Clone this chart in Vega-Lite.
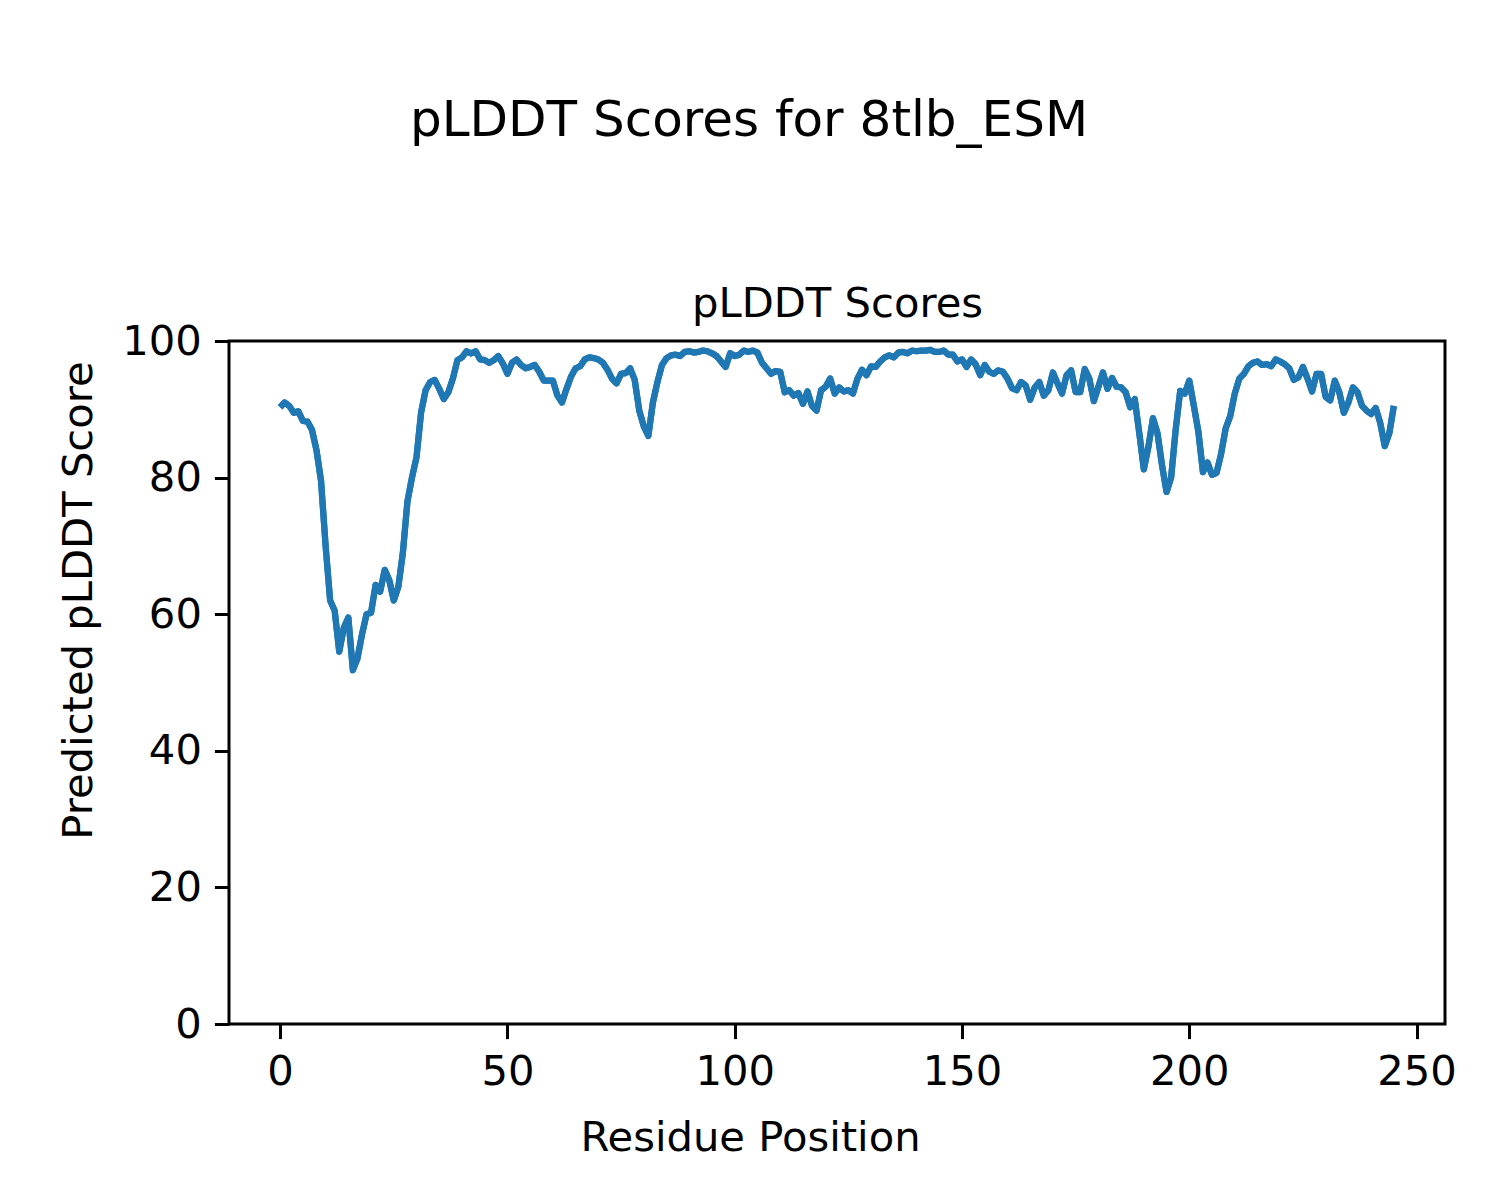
{
  "$schema": "https://vega.github.io/schema/vega-lite/v6.json",
  "width": 1216,
  "height": 683,
  "autosize": {"type": "none"},
  "padding": {"left": 229, "top": 341, "right": 55, "bottom": 176},
  "background": "white",
  "config": {
    "font": "DejaVu Sans",
    "view": {"stroke": "black", "strokeWidth": 3},
    "axis": {
      "grid": false,
      "domain": false,
      "ticks": true,
      "tickColor": "black",
      "tickWidth": 3,
      "tickSize": 14.6,
      "labelPadding": 13,
      "labelFont": "DejaVu Sans",
      "labelFontSize": 41.7,
      "labelColor": "black",
      "titleFont": "DejaVu Sans",
      "titleFontSize": 41.7,
      "titleFontWeight": "normal",
      "titleColor": "black"
    }
  },
  "title": {
    "text": "pLDDT Scores for 8tlb_ESM",
    "font": "DejaVu Sans",
    "fontSize": 50,
    "fontWeight": "normal",
    "color": "black",
    "anchor": "middle",
    "dx": -88,
    "offset": 137
  },
  "data": {
    "values": [
      {"r": 0, "s": 90.3}, {"r": 1, "s": 91.0}, {"r": 2, "s": 90.5}, {"r": 3, "s": 89.5}, {"r": 4, "s": 89.7},
      {"r": 5, "s": 88.3}, {"r": 6, "s": 88.2}, {"r": 7, "s": 87.0}, {"r": 8, "s": 84.0}, {"r": 9, "s": 79.5},
      {"r": 10, "s": 70.0}, {"r": 11, "s": 62.0}, {"r": 12, "s": 60.5}, {"r": 13, "s": 54.5}, {"r": 14, "s": 58.0},
      {"r": 15, "s": 59.5}, {"r": 16, "s": 51.8}, {"r": 17, "s": 53.5}, {"r": 18, "s": 57.0}, {"r": 19, "s": 60.0},
      {"r": 20, "s": 60.2}, {"r": 21, "s": 64.3}, {"r": 22, "s": 63.3}, {"r": 23, "s": 66.5}, {"r": 24, "s": 65.0},
      {"r": 25, "s": 62.0}, {"r": 26, "s": 64.0}, {"r": 27, "s": 69.0}, {"r": 28, "s": 76.5}, {"r": 29, "s": 80.0},
      {"r": 30, "s": 83.0}, {"r": 31, "s": 89.5}, {"r": 32, "s": 92.8}, {"r": 33, "s": 94.0}, {"r": 34, "s": 94.3},
      {"r": 35, "s": 93.0}, {"r": 36, "s": 91.5}, {"r": 37, "s": 92.5}, {"r": 38, "s": 94.5}, {"r": 39, "s": 97.2},
      {"r": 40, "s": 97.6}, {"r": 41, "s": 98.5}, {"r": 42, "s": 98.2}, {"r": 43, "s": 98.5}, {"r": 44, "s": 97.3},
      {"r": 45, "s": 97.2}, {"r": 46, "s": 96.8}, {"r": 47, "s": 97.2}, {"r": 48, "s": 97.8}, {"r": 49, "s": 96.7},
      {"r": 50, "s": 95.2}, {"r": 51, "s": 96.8}, {"r": 52, "s": 97.3}, {"r": 53, "s": 96.5}, {"r": 54, "s": 96.0},
      {"r": 55, "s": 96.2}, {"r": 56, "s": 96.5}, {"r": 57, "s": 95.5}, {"r": 58, "s": 94.2}, {"r": 59, "s": 94.2},
      {"r": 60, "s": 94.2}, {"r": 61, "s": 92.0}, {"r": 62, "s": 91.0}, {"r": 63, "s": 93.0}, {"r": 64, "s": 94.8},
      {"r": 65, "s": 96.0}, {"r": 66, "s": 96.3}, {"r": 67, "s": 97.3}, {"r": 68, "s": 97.6}, {"r": 69, "s": 97.5},
      {"r": 70, "s": 97.3}, {"r": 71, "s": 96.8}, {"r": 72, "s": 95.8}, {"r": 73, "s": 94.5}, {"r": 74, "s": 93.8},
      {"r": 75, "s": 95.2}, {"r": 76, "s": 95.3}, {"r": 77, "s": 96.0}, {"r": 78, "s": 94.3}, {"r": 79, "s": 89.8},
      {"r": 80, "s": 87.5}, {"r": 81, "s": 86.1}, {"r": 82, "s": 91.0}, {"r": 83, "s": 94.0}, {"r": 84, "s": 96.5},
      {"r": 85, "s": 97.5}, {"r": 86, "s": 97.9}, {"r": 87, "s": 98.0}, {"r": 88, "s": 97.8}, {"r": 89, "s": 98.4},
      {"r": 90, "s": 98.5}, {"r": 91, "s": 98.3}, {"r": 92, "s": 98.4}, {"r": 93, "s": 98.6}, {"r": 94, "s": 98.5},
      {"r": 95, "s": 98.2}, {"r": 96, "s": 97.8}, {"r": 97, "s": 97.0}, {"r": 98, "s": 96.2}, {"r": 99, "s": 98.2},
      {"r": 100, "s": 97.8}, {"r": 101, "s": 98.0}, {"r": 102, "s": 98.6}, {"r": 103, "s": 98.4}, {"r": 104, "s": 98.6},
      {"r": 105, "s": 98.3}, {"r": 106, "s": 96.8}, {"r": 107, "s": 96.0}, {"r": 108, "s": 95.2}, {"r": 109, "s": 95.6},
      {"r": 110, "s": 95.5}, {"r": 111, "s": 92.5}, {"r": 112, "s": 92.8}, {"r": 113, "s": 92.0}, {"r": 114, "s": 92.4},
      {"r": 115, "s": 90.8}, {"r": 116, "s": 92.6}, {"r": 117, "s": 90.5}, {"r": 118, "s": 89.8}, {"r": 119, "s": 92.8},
      {"r": 120, "s": 93.3}, {"r": 121, "s": 94.5}, {"r": 122, "s": 92.3}, {"r": 123, "s": 93.2}, {"r": 124, "s": 92.6},
      {"r": 125, "s": 92.8}, {"r": 126, "s": 92.3}, {"r": 127, "s": 94.5}, {"r": 128, "s": 95.8}, {"r": 129, "s": 95.0},
      {"r": 130, "s": 96.3}, {"r": 131, "s": 96.2}, {"r": 132, "s": 97.0}, {"r": 133, "s": 97.6}, {"r": 134, "s": 97.9},
      {"r": 135, "s": 97.6}, {"r": 136, "s": 98.3}, {"r": 137, "s": 98.4}, {"r": 138, "s": 98.2}, {"r": 139, "s": 98.6},
      {"r": 140, "s": 98.5}, {"r": 141, "s": 98.6}, {"r": 142, "s": 98.6}, {"r": 143, "s": 98.7}, {"r": 144, "s": 98.4},
      {"r": 145, "s": 98.4}, {"r": 146, "s": 98.6}, {"r": 147, "s": 98.0}, {"r": 148, "s": 98.0}, {"r": 149, "s": 97.0},
      {"r": 150, "s": 97.3}, {"r": 151, "s": 96.2}, {"r": 152, "s": 97.3}, {"r": 153, "s": 96.6}, {"r": 154, "s": 95.0},
      {"r": 155, "s": 96.5}, {"r": 156, "s": 95.5}, {"r": 157, "s": 95.2}, {"r": 158, "s": 95.7}, {"r": 159, "s": 95.5},
      {"r": 160, "s": 94.5}, {"r": 161, "s": 93.1}, {"r": 162, "s": 92.8}, {"r": 163, "s": 94.0}, {"r": 164, "s": 93.5},
      {"r": 165, "s": 91.4}, {"r": 166, "s": 93.2}, {"r": 167, "s": 94.0}, {"r": 168, "s": 92.0}, {"r": 169, "s": 92.8},
      {"r": 170, "s": 95.4}, {"r": 171, "s": 93.8}, {"r": 172, "s": 92.3}, {"r": 173, "s": 95.0}, {"r": 174, "s": 95.7},
      {"r": 175, "s": 92.5}, {"r": 176, "s": 92.5}, {"r": 177, "s": 95.9}, {"r": 178, "s": 94.5}, {"r": 179, "s": 91.2},
      {"r": 180, "s": 93.3}, {"r": 181, "s": 95.4}, {"r": 182, "s": 93.0}, {"r": 183, "s": 94.6}, {"r": 184, "s": 93.3},
      {"r": 185, "s": 93.2}, {"r": 186, "s": 92.5}, {"r": 187, "s": 90.3}, {"r": 188, "s": 91.5}, {"r": 189, "s": 86.5},
      {"r": 190, "s": 81.2}, {"r": 191, "s": 84.5}, {"r": 192, "s": 88.7}, {"r": 193, "s": 86.5}, {"r": 194, "s": 81.8},
      {"r": 195, "s": 77.9}, {"r": 196, "s": 80.0}, {"r": 197, "s": 87.0}, {"r": 198, "s": 92.7}, {"r": 199, "s": 92.3},
      {"r": 200, "s": 94.2}, {"r": 201, "s": 90.5}, {"r": 202, "s": 86.7}, {"r": 203, "s": 80.8}, {"r": 204, "s": 82.2},
      {"r": 205, "s": 80.4}, {"r": 206, "s": 80.7}, {"r": 207, "s": 83.5}, {"r": 208, "s": 87.2}, {"r": 209, "s": 89.0},
      {"r": 210, "s": 92.3}, {"r": 211, "s": 94.5}, {"r": 212, "s": 95.2}, {"r": 213, "s": 96.3}, {"r": 214, "s": 96.8},
      {"r": 215, "s": 97.0}, {"r": 216, "s": 96.5}, {"r": 217, "s": 96.6}, {"r": 218, "s": 96.3}, {"r": 219, "s": 97.3},
      {"r": 220, "s": 97.0}, {"r": 221, "s": 96.6}, {"r": 222, "s": 96.0}, {"r": 223, "s": 94.3}, {"r": 224, "s": 94.7},
      {"r": 225, "s": 96.2}, {"r": 226, "s": 94.5}, {"r": 227, "s": 92.6}, {"r": 228, "s": 95.2}, {"r": 229, "s": 95.2},
      {"r": 230, "s": 91.8}, {"r": 231, "s": 91.3}, {"r": 232, "s": 94.2}, {"r": 233, "s": 92.5}, {"r": 234, "s": 89.5},
      {"r": 235, "s": 91.0}, {"r": 236, "s": 93.2}, {"r": 237, "s": 92.5}, {"r": 238, "s": 90.5}, {"r": 239, "s": 89.8},
      {"r": 240, "s": 89.3}, {"r": 241, "s": 90.2}, {"r": 242, "s": 88.0}, {"r": 243, "s": 84.6}, {"r": 244, "s": 86.5},
      {"r": 245, "s": 90.5}
    ]
  },
  "layer": [
    {
      "mark": {"type": "line", "color": "#1f77b4", "strokeWidth": 6.25, "strokeJoin": "round", "strokeCap": "butt"},
      "encoding": {
        "x": {
          "field": "r", "type": "quantitative",
          "scale": {"domain": [-11.25, 256.25], "nice": false, "zero": false},
          "axis": {"orient": "bottom", "values": [0, 50, 100, 150, 200, 250], "title": "Residue Position", "titlePadding": 24, "titleX": 521, "labelFlush": false}
        },
        "y": {
          "field": "s", "type": "quantitative",
          "scale": {"domain": [0, 100], "nice": false},
          "axis": {"orient": "left", "values": [0, 20, 40, 60, 80, 100], "title": "Predicted pLDDT Score", "titlePadding": 21, "titleY": 259, "labelFlush": false}
        }
      }
    },
    {
      "mark": {"type": "line", "color": "#1f77b4", "strokeWidth": 6.25, "strokeJoin": "round", "strokeCap": "butt"},
      "encoding": {
        "x": {
          "field": "r", "type": "quantitative",
          "scale": {"domain": [-11.25, 256.25], "nice": false, "zero": false},
          "axis": {"orient": "top", "title": "pLDDT Scores", "labels": false, "ticks": false, "domain": false, "titlePadding": 16}
        },
        "y": {
          "field": "s", "type": "quantitative",
          "scale": {"domain": [0, 100], "nice": false},
          "axis": null
        }
      }
    }
  ],
  "resolve": {"axis": {"x": "independent", "y": "independent"}}
}
